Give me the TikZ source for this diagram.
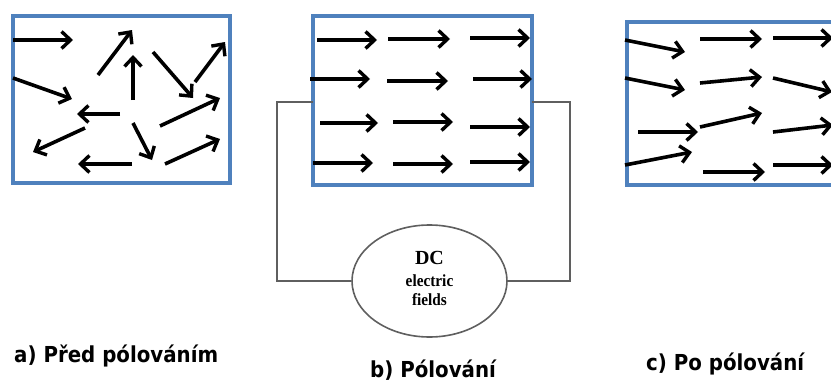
\documentclass[tikz,border=0pt]{standalone}
\usepackage{fontspec}
\usepackage{graphicx}
\setmainfont{Liberation Serif}
\newfontfamily\lblfont{DejaVu Sans}
\usetikzlibrary{arrows.meta,shapes.geometric}
\definecolor{boxblue}{RGB}{79,129,189}
\definecolor{wiregray}{RGB}{95,95,95}
\newcommand{\lbltext}[1]{\scalebox{0.9}[1]{#1}}
\tikzset{
  vec/.style={line width=3.6pt,-{Straight Barb[length=9pt,width=17pt,line width=3.4pt]}},
  panel/.style={draw=boxblue,line width=3.2pt},
  wire/.style={draw=wiregray,line width=1.6pt},
  lbl/.style={font=\lblfont\bfseries\fontsize{22}{24}\selectfont,anchor=base west,inner sep=0pt},
  dctxt/.style={font=\bfseries\fontsize{17}{17}\selectfont,inner sep=0pt}
}
\begin{document}
\begin{tikzpicture}[x=1pt,y=-1pt]
\useasboundingbox (0,0) rectangle (831,383);
% panels
\draw[panel] (13,16) rectangle (230,183);
\coordinate (bTL) at (313,16);
\coordinate (bBR) at (532,185);
\draw[panel] (bTL) rectangle (bBR);
\draw[panel] (627,22) rectangle (845,185);

% circuit
\node[ellipse,draw=wiregray,line width=1.6pt,minimum width=155pt,minimum height=112pt,inner sep=0pt] (dc) at (429.5,281) {};
\node[font=\bfseries\fontsize{20}{20}\selectfont,inner sep=0pt] (dct) at (429.5,258) {DC};
\node[dctxt] (el) at (429.5,281) {\scalebox{0.9}[1]{electric}};
\node[dctxt] (fi) at (429.5,300) {\scalebox{0.9}[1]{fields}};
\coordinate (wl) at (313,102);
\coordinate (wr) at (532,102);
\draw[wire] (wl) -- (277,102) |- (dc.west);
\draw[wire] (wr) -- (570,102) |- (dc.east);

% a) random
\draw[vec] (13,40) -- (73,40);
\draw[vec] (13,78) -- (72,99);
\draw[vec] (98,75) -- (132,30);
\draw[vec] (133,100) -- (133,55);
\draw[vec] (153,52) -- (193,98);
\draw[vec] (195,82) -- (225,42);
\draw[vec] (120,114) -- (77,114);
\draw[vec] (85,128) -- (33,152);
\draw[vec] (133,123) -- (152,160);
\draw[vec] (160,126) -- (220,98);
\draw[vec] (132,164) -- (78,164);
\draw[vec] (165,164) -- (220,139);

% b) poling
\draw[vec] (317,40) -- (377,40);
\draw[vec] (388,39) -- (450,39);
\draw[vec] (470,38) -- (530,38);
\draw[vec] (310,79) -- (370,79);
\draw[vec] (387,81) -- (448,81);
\draw[vec] (473,79) -- (532,79);
\draw[vec] (320,123) -- (378,123);
\draw[vec] (393,122) -- (453,122);
\draw[vec] (470,127) -- (530,127);
\draw[vec] (313,163) -- (373,163);
\draw[vec] (393,164) -- (453,164);
\draw[vec] (470,162) -- (530,162);

% c) after poling
\draw[vec] (625,40) -- (685,52);
\draw[vec] (700,39) -- (762,39);
\draw[vec] (773,38) -- (833,38);
\draw[vec] (625,78) -- (685,90);
\draw[vec] (700,83) -- (762,77);
\draw[vec] (773,78) -- (832,92);
\draw[vec] (638,132) -- (698,132);
\draw[vec] (700,127) -- (762,113);
\draw[vec] (773,132) -- (833,125);
\draw[vec] (625,165) -- (692,152);
\draw[vec] (703,172) -- (765,172);
\draw[vec] (773,165) -- (833,165);

% labels
\node[lbl] (la) at (14,362) {\lbltext{a) Před pólováním}};
\node[lbl] (lb) at (370,377) {\lbltext{b) Pólování}};
\node[lbl] (lc) at (646,370) {\lbltext{c) Po pólování}};
\end{tikzpicture}
\end{document}
